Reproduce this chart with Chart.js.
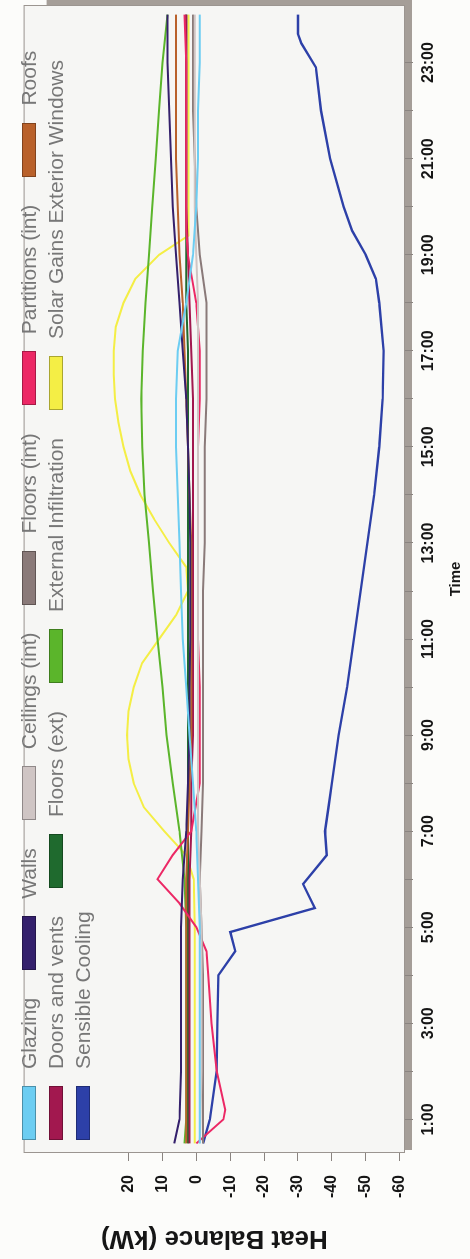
<!DOCTYPE html>
<html>
<head>
<meta charset="utf-8">
<script src="https://cdn.jsdelivr.net/npm/chart.js@4.4.1/dist/chart.umd.min.js"></script>
<style>
  html, body { margin: 0; padding: 0; background: #fcfcfa; overflow: hidden; }
  body { width: 470px; height: 1259px; position: relative; }
  /* chart is laid out landscape, then turned a quarter turn to the left */
  #wrap {
    position: absolute; left: 0; top: 0;
    width: 1259px; height: 470px;
    transform-origin: 0 0;
    transform: translateY(1259px) rotate(-90deg);
  }
  #chart { position: absolute; left: 0; top: 0; }
  #legend {
    position: absolute; left: 119px; top: 15px; width: 1140px;
    display: flex; flex-wrap: wrap;
    font: 21px 'Liberation Sans', Arial, sans-serif; color: #777;
    line-height: 27px;
  }
  .item { display: flex; align-items: center; margin-right: 28px; white-space: nowrap; }
  .box { width: 52px; height: 12px; border: 1px solid rgba(0,0,0,.3); margin-right: 17px; }
</style>
</head>
<body>
<div id="wrap">
  <canvas id="chart" width="1259" height="470"></canvas>
  <div id="legend"></div>
</div>
<script>
(function () {
    // ── Data ───────────────────────────────────────────────
    const hours = [0.5, 1, 2, 3, 4, 5, 6, 7, 8, 9, 10, 11, 12, 13, 14, 15, 16, 17, 18, 19, 20, 21, 22, 23, 24];
    const hourTicks = [1, 2, 3, 4, 5, 6, 7, 8, 9, 10, 11, 12, 13, 14, 15, 16, 17, 18, 19, 20, 21, 22, 23];
    const balanceTicks = [20, 10, 0, -10, -20, -30, -40, -50, -60];

    const glazing    = [-1, -1, -1, -1, -1, -1, -0.5, 0, 1, 2, 3, 4, 4.5, 5, 5.5, 6, 6, 5.5, 3, 1, 0, -0.5, -0.5, -1, -1];
    const walls      = [6.5, 5, 4.5, 4.5, 4.5, 4.5, 4, 3, 2.5, 2, 2, 1.8, 1.8, 1.8, 2, 2.5, 3, 4, 5, 6, 7, 7.5, 8, 8.5, 8.5];
    const ceilings   = [-1, -1.2, -1.5, -1.5, -1.5, -1.5, -1, -0.5, -0.5, -0.5, -0.5, -0.5, -0.5, -0.5, -0.5, -0.5, -0.5, -0.5, -0.5, 0, 0.5, 0.5, 0.5, 0.5, 0.5];
    const floorsInt  = [-2, -2, -2, -2, -2, -1.5, -1, -1.5, -2, -2, -2, -2, -2, -2.5, -2.5, -2.5, -3, -3, -3, -1, 0, 0.5, 1, 1, 1];
    const roofs      = [3, 3, 3, 3, 3, 3, 3, 2.5, 2, 1.5, 1.5, 1.5, 1.5, 1.5, 2, 2.5, 3, 3.5, 4, 5, 5.5, 6, 6, 6, 6];
    const doors      = [2, 2, 2, 2, 2, 2, 2, 1.5, 1.5, 1, 1, 1, 1, 1, 1, 1, 1, 1.5, 2, 2.5, 3, 3, 3, 3, 3];
    const floorsExt  = [2.5, 2.5, 2.5, 2.5, 2.5, 2.5, 2.5, 2.5, 2.5, 2.5, 2.5, 2.5, 2.5, 2.5, 2.5, 2.5, 2.5, 2.5, 3, 3, 3, 3, 3, 3, 3];
    const infiltration = [3.5, 3, 3, 3, 3, 3, 3.5, 5, 7, 8.8, 10, 11.5, 12.8, 14, 15.3, 16, 16.3, 15.8, 15, 14, 13, 12, 11, 10, 8.5];

    const partitionHours = [0.5, 1, 1.2, 2, 3, 4, 4.5, 5, 5.5, 6, 6.5, 7, 8, 9, 10, 11, 12, 13, 14, 15, 16, 17, 18, 19, 19.5, 20, 21, 22, 23, 24];
    const partitions     = [0, -8, -8.5, -6, -4.5, -3.5, -3, 0, 5, 11.5, 7, 1.5, -1, -1, -1, -0.5, -0.5, -0.5, -0.5, -0.5, -1, -1, 0, 2.5, 3, 3, 3, 3, 3, 3.5];

    const solarHours = [0.5, 1, 2, 3, 4, 5, 6, 6.5, 7, 7.5, 8, 8.5, 9, 9.5, 10, 10.5, 11, 11.5, 12, 12.5, 13, 13.5, 14, 14.5, 15, 15.5, 16, 16.5, 17, 17.5, 18, 18.5, 19, 19.4, 20, 21, 22, 23, 24];
    const solar      = [0.5, 0.5, 0.5, 0.5, 0.5, 0.5, 0.8, 3, 9.5, 15.5, 18.5, 20, 20.5, 20, 18.5, 16, 11, 6, 2.5, 3, 8, 12.5, 16.5, 19.5, 21.5, 23, 24, 24.4, 24.4, 23.8, 21.5, 18, 11, 2.3, 2.3, 2.3, 2.3, 2.3, 2.3];

    const coolingHours = [0.5, 1, 2, 3, 4, 4.5, 4.9, 5.4, 5.9, 6.5, 7, 7.5, 8, 9, 10, 11, 12, 13, 14, 15, 16, 17, 18, 18.5, 19, 19.5, 20, 20.5, 21, 22, 22.9, 23.4, 23.6, 24];
    const cooling      = [-2, -4, -6, -6.2, -6.5, -11.5, -10, -35, -31.5, -38.5, -38, -39, -40, -42, -44.5, -46.5, -48.5, -50.5, -52.5, -54, -55, -55.3, -54, -53, -50, -46, -43.5, -41.5, -39.5, -36.8, -35.3, -31, -30, -30];

    const names = ['Glazing', 'Walls', 'Ceilings (int)', 'Floors (int)', 'Partitions (int)', 'Roofs',
        'Doors and vents', 'Floors (ext)', 'External Infiltration', 'Solar Gains Exterior Windows', 'Sensible Cooling'];
    const colors = ['#6ccdf2', '#34206c', '#cfc5c4', '#8a7a79', '#ec2865', '#b9612b',
        '#a2184f', '#1f6a2e', '#5bb52b', '#f4ee45', '#2d40a8'];
    const xs = [hours, hours, hours, hours, partitionHours, hours, hours, hours, hours, solarHours, coolingHours];
    const ys = [glazing, walls, ceilings, floorsInt, partitions, roofs, doors, floorsExt, infiltration, solar, cooling];

    // ── Datasets ───────────────────────────────────────────
    const datasets = names.map((name, i) => ({
        label: name,
        data: xs[i].map((t, j) => ({ x: t, y: ys[i][j] })),
        borderColor: colors[i],
        backgroundColor: colors[i],
        borderWidth: i === 10 ? 2.4 : 2,
        pointRadius: 0,
        tension: 0,
        fill: false
    }));

    // ── Frame with grey drop shadow ────────────────────────
    const framePlugin = {
        id: 'frame',
        beforeDraw(chart) {
            const { ctx, chartArea: a } = chart;
            ctx.save();
            ctx.fillStyle = '#a59e98';
            ctx.fillRect(a.left + 3, a.bottom, a.right - a.left + 2, 7);
            ctx.fillRect(a.right, a.top + 23, 5, a.bottom - a.top - 23);
            ctx.fillStyle = '#f6f6f4';
            ctx.fillRect(a.left, a.top, a.right - a.left, a.bottom - a.top);
            ctx.restore();
        },
        afterDraw(chart) {
            const { ctx, chartArea: a } = chart;
            ctx.save();
            ctx.strokeStyle = '#9b9590';
            ctx.lineWidth = 1;
            ctx.strokeRect(a.left + 0.5, a.top + 0.5, a.right - a.left - 1, a.bottom - a.top - 1);
            ctx.restore();
        }
    };

    Chart.defaults.font.family = "'Liberation Sans', Arial, sans-serif";

    new Chart(document.getElementById('chart'), {
        type: 'line',
        data: { datasets },
        plugins: [framePlugin],
        options: {
            responsive: false,
            animation: false,
            layout: { padding: { left: 5, top: 12, right: 5, bottom: 0 } },
            plugins: { legend: { display: false }, tooltip: { enabled: false } },
            scales: {
                x: {
                    type: 'linear',
                    min: 0.3,
                    max: 24.2,
                    afterBuildTicks: axis => { axis.ticks = hourTicks.map(v => ({ value: v })); },
                    afterFit: axis => { axis.height = 65; },
                    ticks: {
                        autoSkip: false, maxRotation: 0, padding: 6, color: '#161616',
                        font: { size: 16, weight: 'bold' },
                        callback: v => (v % 2 ? v + ':00' : '')
                    },
                    grid: { drawOnChartArea: false, tickLength: 8, color: '#8a8480' },
                    border: { display: false },
                    title: {
                        display: true, text: 'Time', color: '#161616',
                        font: { size: 15, weight: 'bold' }, padding: { top: 0, bottom: 5 }
                    }
                },
                y: {
                    min: -61.6,
                    max: 51,
                    afterBuildTicks: axis => { axis.ticks = balanceTicks.map(v => ({ value: v })); },
                    afterFit: axis => { axis.width = 101; },
                    ticks: { padding: 14, color: '#161616', font: { size: 16, weight: 'bold' } },
                    grid: { drawOnChartArea: false, tickLength: 8, color: '#8a8480' },
                    border: { display: false },
                    title: {
                        display: true, text: 'Heat Balance (kW)', color: '#161616',
                        font: { size: 26, weight: 'bold' }, padding: { top: 0, bottom: 0 }
                    }
                }
            }
        }
    });

    // ── Legend (inside the plot frame, 3 rows) ─────────────
    const legendEl = document.getElementById('legend');
    names.forEach((name, i) => {
        const item = document.createElement('div');
        item.className = 'item';
        const box = document.createElement('span');
        box.className = 'box';
        box.style.background = colors[i];
        const txt = document.createElement('span');
        txt.textContent = name;
        item.appendChild(box);
        item.appendChild(txt);
        legendEl.appendChild(item);
    });
})();
</script>
</body>
</html>
